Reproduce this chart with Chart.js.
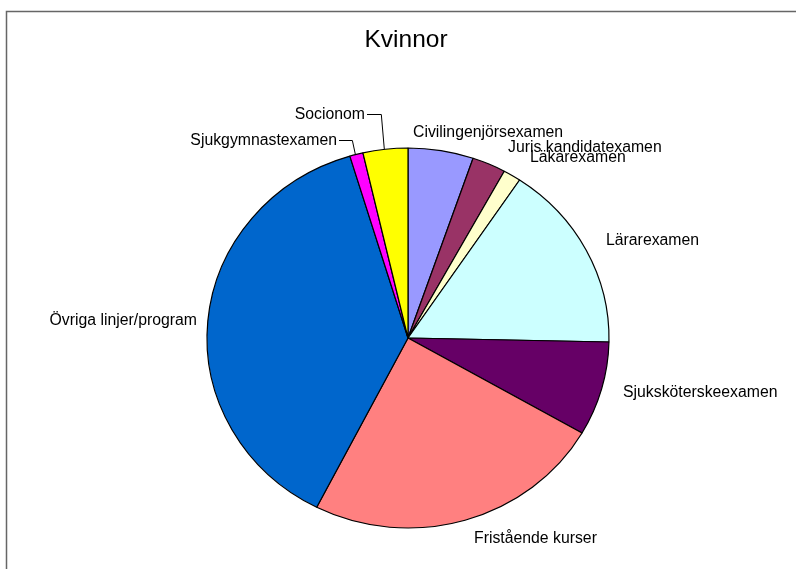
<!DOCTYPE html>
<html>
<head>
<meta charset="utf-8">
<script src="https://cdn.jsdelivr.net/npm/chart.js@4/dist/chart.umd.min.js"></script>
<style>
  html, body { margin: 0; padding: 0; background: #fff; }
  #wrap { width: 796px; height: 569px; position: relative; }
</style>
</head>
<body>
<div id="wrap"><canvas id="pie"></canvas></div>
<script>
// Kvinnor - share per exam type (percent)
const categories = [
    "Civilingenjörsexamen",
    "Juris kandidatexamen",
    "Läkarexamen",
    "Lärarexamen",
    "Sjuksköterskeexamen",
    "Fristående kurser",
    "Övriga linjer/program",
    "Sjukgymnastexamen",
    "Socionom"
];
const shares = [5.25, 2.7, 1.42, 15.97, 8.0, 24.17, 37.83, 1.07, 3.6];
const sliceColors = [
    '#9999FF', // lavender
    '#993366', // plum
    '#FFFFCC', // pale yellow
    '#CCFFFF', // pale cyan
    '#660066', // dark purple
    '#FF8080', // salmon
    '#0066CC', // blue
    '#FF00FF', // magenta
    '#FFFF00'  // yellow
];

// where each label text sits (x, baseline, align) and whether it gets a leader line
const labelLayout = [
    { x: 413, y: 137, align: 'left' },
    { x: 508, y: 152, align: 'left' },
    { x: 530, y: 162, align: 'left' },
    { x: 606, y: 245, align: 'left' },
    { x: 623, y: 397, align: 'left' },
    { x: 474, y: 543, align: 'left' },
    { x: 197, y: 325, align: 'right' },
    { x: 337, y: 145, align: 'right', leader: true },
    { x: 365, y: 119, align: 'right', leader: true }
];

const squash = 190 / 201;   // the pie is a bit flatter than round
const labelFont = '15.8px "Liberation Sans", Arial, sans-serif';

const excelLook = {
    id: 'excelLook',
    beforeDatasetsDraw(chart) {
        const arc = chart.getDatasetMeta(0).data[0];
        const ctx = chart.ctx;
        ctx.save();
        ctx.translate(arc.x, arc.y);
        ctx.scale(1, squash);
        ctx.translate(-arc.x, -arc.y);
    },
    afterDatasetsDraw(chart) {
        const ctx = chart.ctx;
        ctx.restore();

        const arcs = chart.getDatasetMeta(0).data;
        ctx.save();
        ctx.fillStyle = '#000';
        ctx.font = labelFont;
        ctx.textBaseline = 'alphabetic';
        arcs.forEach((arc, i) => {
            const pos = labelLayout[i];
            ctx.textAlign = pos.align;
            ctx.fillText(categories[i], pos.x, pos.y);
            if (pos.leader) {
                const mid = (arc.startAngle + arc.endAngle) / 2;
                const ax = arc.x + Math.cos(mid) * arc.outerRadius;
                const ay = arc.y + Math.sin(mid) * arc.outerRadius * squash;
                const ly = pos.y - 5;
                ctx.strokeStyle = '#000';
                ctx.lineWidth = 1;
                ctx.beginPath();
                ctx.moveTo(pos.x + 2, ly + 0.5);
                ctx.lineTo(ax - 4, ly + 0.5);
                ctx.lineTo(ax - 1, ay);
                ctx.stroke();
            }
        });

        // title
        ctx.textAlign = 'center';
        ctx.font = '24.5px "Liberation Sans", Arial, sans-serif';
        ctx.fillText('Kvinnor', 406, 47);

        // outer frame of the chart object
        ctx.strokeStyle = '#666';
        ctx.lineWidth = 1.5;
        ctx.strokeRect(6.5, 11.5, 900, 700);
        ctx.restore();
    }
};

new Chart(document.getElementById('pie'), {
    type: 'pie',
    data: {
        labels: categories,
        datasets: [{
            data: shares,
            backgroundColor: sliceColors,
            borderColor: '#000',
            borderWidth: 1.2,
            hoverOffset: 0
        }]
    },
    options: {
        responsive: true,
        maintainAspectRatio: false,
        animation: false,
        radius: 201,
        layout: {
            padding: { left: 20, right: 0, top: 107, bottom: 0 }
        },
        plugins: {
            legend: { display: false },
            tooltip: { enabled: false },
            title: { display: false }
        }
    },
    plugins: [excelLook]
});
</script>
</body>
</html>
